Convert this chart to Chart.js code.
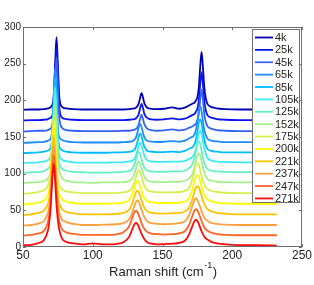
<!DOCTYPE html>
<html>
<head>
<meta charset="utf-8">
<script src="https://cdn.jsdelivr.net/npm/chart.js@4"></script>
<style>
  html, body { margin: 0; padding: 0; background: #fff; }
  #wrap { width: 314px; height: 285px; position: relative; }
</style>
</head>
<body>
<div id="wrap"><canvas id="myChart"></canvas></div>
<script>
// Raman shift grid (cm-1), shared by all spectra
const shift = [50, 56, 61, 65, 68, 69, 70, 71, 72, 73, 74, 75, 76, 78, 81, 86, 93, 100, 108, 116, 122, 126, 128, 130, 131, 132, 133, 134, 135, 136, 137, 139, 142, 146, 151, 157, 162, 166, 169, 171, 172, 173, 174, 175, 176, 177, 178, 179, 180, 182, 185, 189, 195, 205, 218, 232];

const temps = ['4k', '25k', '45k', '65k', '85k', '105k', '125k', '152k', '175k', '200k', '221k', '237k', '247k', '271k'];

// vertical offset of each spectrum (waterfall)
const offsets = [187, 172.5, 157.5, 142, 128, 114.5, 101, 87, 72.5, 58, 43.5, 29, 15, 1.5];

const colors = ['#0000b4', '#0a14f0', '#3462f4', '#1c8cff', '#00bcff', '#3cecf0', '#64f0c0', '#a4f08c', '#d4f04c', '#fcfc00', '#ffc400', '#ffa040', '#ff6428', '#ff0a0a'];

// intensities above each offset
const i4k = [0, 0.5, 0.5, 1, 2, 2.5, 4, 7, 18, 60, 99, 60, 18, 4, 2, 1, 0.5,
  0.5, 0.5, 0.5, 0.5,
  1, 1.5, 2, 3, 5, 9, 17, 23, 17, 9, 3, 1.5, 1,
  1.5, 3.5, 1.5, 3, 6,
  8, 9, 10, 13, 17, 30, 58, 79, 58, 30,
  9, 4, 2, 1, 0.5, 0.5, 0.5];
const i25k = [0, 0.5, 0.5, 1, 2, 3, 4, 7, 19, 62, 100, 62, 19, 4, 2, 1, 0.5,
  0.5, 0.5, 0.5, 0.5,
  1, 1.5, 2, 3, 5, 9, 17, 23, 17, 9, 3.5, 1.5, 1,
  1.5, 3, 1.5, 2.5, 5,
  7, 8, 9, 12, 16, 27, 49, 66, 49, 26,
  8, 4, 2, 1, 0.5, 0.5, 0.5];
const i45k = [0, 0.5, 1, 1, 2, 3, 4.5, 8, 20, 64, 101, 63, 20, 5, 2, 1, 0.5,
  0.5, 0.5, 0.5, 1,
  1, 1.5, 2.5, 3.5, 5.5, 10, 17, 23, 17, 10, 4, 2, 1,
  1.5, 3, 1.5, 2.5, 5,
  6.5, 7.5, 9, 11, 15, 24, 43, 57, 43, 23,
  8, 4, 2, 1, 0.5, 0.5, 1];
const i65k = [0, 0.5, 1, 1.5, 3, 4, 7, 19, 64, 102, 64, 20, 8, 4, 2, 1, 0.5,
  0.5, 0.5, 0.5, 1,
  1.5, 2, 4.3, 7.5, 13.5, 21.5, 26, 21.5, 13.5, 7.5, 3, 1.8, 1.2,
  1.5, 2.5, 1.5,
  3, 6, 8, 9, 12, 18, 29, 43, 50, 43, 29, 17, 6.5, 3, 2, 1,
  1, 1, 1];
const i85k = [0, 0.5, 1, 2, 3.5, 5, 9, 24, 68, 103, 68, 24, 9, 4, 2, 1, 0.5,
  0.5, 0.5, 1, 1,
  1.8, 2.5, 5, 8.8, 15, 22.8, 27, 22.8, 15, 8.8, 3.3, 2, 1.3,
  1.5, 2, 1.5,
  3, 6, 7.5, 9, 12.5, 19, 29, 41, 46, 41, 29, 18, 6.5, 3, 2, 1,
  1, 1, 1];
const i105k = [0, 0.5, 1, 2, 4, 6, 11, 28, 72, 104, 72, 28, 11, 4.5, 2.5, 1, 0.5,
  0.5, 0.5, 1, 1,
  2.2, 3, 6, 10.2, 16.7, 24, 28, 24, 16.7, 10.2, 4, 2.2, 1.5,
  1.5, 2, 2,
  3, 5.5, 7.5, 9.5, 13.5, 20, 30, 40, 44, 40, 29.5, 19.5, 7.5, 3.5, 2, 1.5,
  1, 1, 1];
const i125k = [0, 1, 1, 2.5, 6, 8, 14, 33, 76, 105, 76, 33, 14, 6, 3, 1.5, 1,
  0.5, 0.5, 1, 1.5,
  2.7, 4.6, 12, 18.5, 25.5, 29, 25.5, 18.5, 12, 7.3, 3.3, 2, 1.5,
  1.5, 2, 2,
  3, 6.5, 10.5, 15, 21, 30.5, 39.5, 43, 39.5, 30, 21, 13.5, 6, 3, 2, 1.5,
  1, 1, 1];
const i152k = [0, 1, 1.5, 3, 7, 10, 17, 38, 80, 106, 80, 38, 17, 7, 3.5, 1.5, 1,
  0.5, 1, 1, 1.5,
  3, 5.6, 13.6, 20.3, 27, 30, 27, 20.3, 13.6, 8.7, 3.9, 2.2, 1.6,
  1.5, 2, 2,
  3, 6.5, 11, 16, 22, 30.5, 38, 41, 38, 30, 21.5, 14.5, 6.5, 3.5, 2, 1.5,
  1, 1, 1];
const i175k = [0, 1, 2.5, 5, 12, 20, 42, 83, 107, 83, 42, 20, 12, 6, 3.5, 2, 1,
  1, 1, 1, 2,
  4, 7.4, 16.4, 23.2, 29.6, 32, 29.6, 23.2, 16.4, 11, 5.2, 3, 2.3,
  2, 2, 2.5,
  4, 8, 17, 24, 32.5, 39.5, 42, 39.5, 32, 24, 17, 12.5, 7, 4, 2.5, 1.5,
  1, 1, 1];
const i200k = [0, 1, 2.5, 5.5, 14, 23, 46, 86, 108, 86, 46, 23, 14, 7, 4, 2, 1,
  1, 1, 1.5, 2.5,
  6.1, 12.5, 24.3, 30, 32, 30, 24.3, 17.9, 12.5, 8.6, 4.6, 2.9, 2.3,
  2, 2, 2.5,
  4, 8.5, 17.5, 24.5, 32, 38.5, 40, 38.5, 32, 24.5, 17.5, 13, 7.5, 4.5, 2.5, 1.5,
  1, 1, 1];
const i221k = [0, 1, 3, 6, 16, 26, 49, 88, 109, 88, 49, 26, 16, 8, 4.5, 2.5, 1,
  1, 1, 1.5, 3,
  7.2, 14.3, 26, 31.3, 33.5, 31.3, 26, 19.8, 14.3, 10.1, 5.4, 3.2, 2.4,
  2, 2.5, 3,
  5, 10, 19.5, 26, 32.5, 38, 39, 38, 32.5, 26, 19.5, 14.5, 8.5, 5, 3, 2,
  1, 1, 1];
const i237k = [0.5, 1, 3, 6.5, 18, 29, 52, 89, 110, 89, 52, 29, 18, 8.5, 5, 2.5, 1,
  1, 1.5, 2, 3.5,
  8.5, 16.2, 27.5, 32.5, 34.5, 32.5, 27.5, 21.6, 16.2, 11.7, 6.3, 3.5, 2.6,
  2, 2.5, 3.5,
  6, 14, 25, 30.5, 35.5, 37.5, 35.5, 31, 25.5, 20, 15, 11, 7, 4, 2.5, 1.5,
  1, 1, 1];
const i247k = [0.5, 1.5, 3.5, 7, 20, 32, 54, 90, 111, 90, 54, 32, 20, 9, 5, 3, 1.5,
  1.5, 1.5, 2, 5,
  13, 22.8, 32.8, 34.5, 32.8, 28.2, 22.8, 17.5, 13, 9.6, 5.6, 3.4, 2.6,
  2, 2.5, 3.5,
  6.5, 15, 25, 30.5, 35, 36.5, 35, 31, 25.5, 20.5, 16, 12, 7.5, 4.5, 2.5, 1.5,
  1, 1, 1];
const i271k = [1, 1.5, 4, 8, 22, 35, 57, 91, 112, 91, 57, 35, 22, 10, 5.5, 3.5, 2,
  3.5, 2, 2.5, 5,
  12, 21, 30, 31.5, 30, 26, 21, 16.5, 12.5, 9, 5, 3, 2,
  2.5, 3, 4,
  7, 15.5, 25, 30, 34, 35.5, 34, 30, 25, 20, 16, 12.5, 9, 5.5, 3.5, 2,
  1, 1, 0.5];

const spectra = [i4k, i25k, i45k, i65k, i85k, i105k, i125k, i152k, i175k, i200k, i221k, i237k, i247k, i271k];

const xTicks = [50, 100, 150, 200, 250];
const yTicks = [0, 50, 100, 150, 200, 250, 300];

const FONT = "'Liberation Sans', Arial, Helvetica, sans-serif";

// box, inward ticks, legend and x title (matlab look)
const frame = {
  id: 'frame',
  afterDatasetsDraw(chart) {
    const { ctx, chartArea: a, scales } = chart;
    const xs = scales.x, ys = scales.y;
    ctx.save();
    ctx.strokeStyle = '#707070';
    ctx.lineWidth = 1;
    ctx.strokeRect(a.left + 0.5, a.top + 0.5, a.right - a.left - 1, a.bottom - a.top - 1);
    ctx.beginPath();
    xTicks.forEach(v => {
      const px = Math.round(xs.getPixelForValue(v)) + 0.5;
      ctx.moveTo(px, a.bottom); ctx.lineTo(px, a.bottom - 3);
      ctx.moveTo(px, a.top); ctx.lineTo(px, a.top + 3);
    });
    yTicks.forEach(v => {
      const py = Math.round(ys.getPixelForValue(v)) + 0.5;
      ctx.moveTo(a.left, py); ctx.lineTo(a.left + 3, py);
      ctx.moveTo(a.right, py); ctx.lineTo(a.right - 3, py);
    });
    ctx.stroke();

    // legend
    const lx = 252, ly = 29, lw = 48, lh = 174, step = 12.38;
    ctx.fillStyle = '#fff';
    ctx.fillRect(lx, ly, lw, lh);
    ctx.strokeStyle = '#707070';
    ctx.strokeRect(lx + 0.5, ly + 0.5, lw - 1, lh - 1);
    ctx.font = '11px ' + FONT;
    ctx.textBaseline = 'middle';
    ctx.textAlign = 'left';
    temps.forEach((t, i) => {
      const yy = 37.5 + i * step;
      ctx.strokeStyle = colors[i];
      ctx.lineWidth = 1.8;
      ctx.beginPath();
      ctx.moveTo(255, yy); ctx.lineTo(273, yy);
      ctx.stroke();
      ctx.fillStyle = '#222';
      ctx.fillText(t, 275, yy + 0.5);
    });

    // x axis title with superscript
    const cx = (a.left + a.right) / 2, ty = 272;
    const p1 = 'Raman shift (cm', sup = '-1', p2 = ')';
    ctx.font = '13px ' + FONT;
    const w1 = ctx.measureText(p1).width, w3 = ctx.measureText(p2).width;
    ctx.font = '9px ' + FONT;
    const w2 = ctx.measureText(sup).width;
    let sx = cx - (w1 + w2 + w3) / 2;
    ctx.fillStyle = '#222';
    ctx.font = '13px ' + FONT;
    ctx.fillText(p1, sx, ty);
    ctx.font = '9px ' + FONT;
    ctx.fillText(sup, sx + w1 + 0.5, ty - 6);
    ctx.font = '13px ' + FONT;
    ctx.fillText(p2, sx + w1 + w2 + 1, ty);
    ctx.restore();
  }
};

const ctx = document.getElementById('myChart').getContext('2d');

new Chart(ctx, {
  type: 'line',
  data: {
    datasets: spectra.map((s, i) => ({
      label: temps[i],
      data: shift.map((x, j) => ({ x: x, y: s[j] + offsets[i] })),
      borderColor: colors[i],
      backgroundColor: colors[i],
      borderWidth: 1.8,
      pointRadius: 0,
      fill: false,
      cubicInterpolationMode: 'monotone',
      order: spectra.length - 1 - i
    }))
  },
  options: {
    responsive: true,
    maintainAspectRatio: false,
    animation: false,
    devicePixelRatio: 1,
    layout: { padding: { top: 27, right: 12, left: 0, bottom: 0 } },
    scales: {
      x: {
        type: 'linear',
        min: 50,
        max: 250,
        afterBuildTicks: (s) => { s.ticks = xTicks.map(v => ({ value: v })); },
        afterFit: (s) => { s.height = 38; s.paddingLeft = 0; s.paddingRight = 0; },
        ticks: { padding: 1, color: '#222', font: { size: 12, family: FONT }, maxRotation: 0 },
        grid: { display: false, drawTicks: false },
        border: { display: false }
      },
      y: {
        min: 0,
        max: 300,
        afterBuildTicks: (s) => { s.ticks = yTicks.map(v => ({ value: v })); },
        afterFit: (s) => { s.width = 23; s.paddingTop = 0; s.paddingBottom = 0; },
        ticks: { padding: 2, color: '#222', font: { size: 10, family: FONT } },
        grid: { display: false, drawTicks: false },
        border: { display: false }
      }
    },
    plugins: {
      legend: { display: false },
      tooltip: { enabled: false }
    }
  },
  plugins: [frame]
});
</script>
</body>
</html>
